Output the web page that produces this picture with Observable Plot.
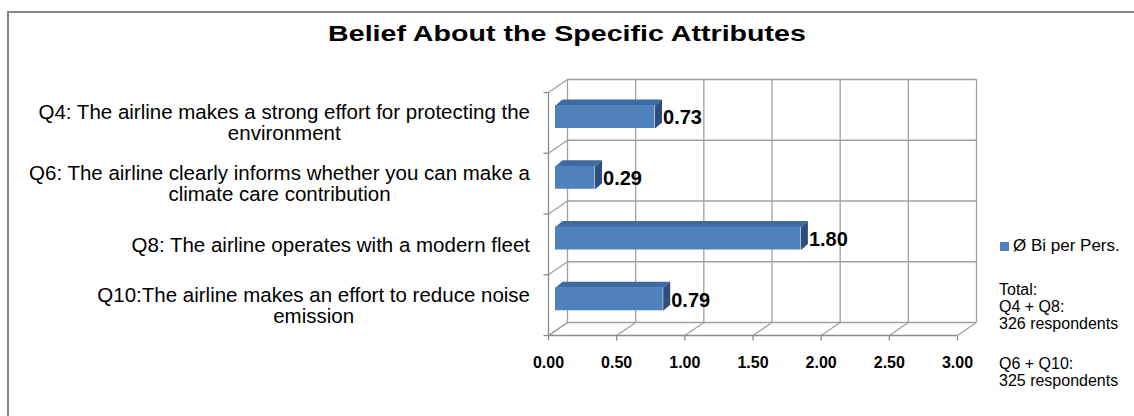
<!DOCTYPE html>
<html><head><meta charset="utf-8">
<script src="https://cdn.jsdelivr.net/npm/d3@7"></script>
<script src="https://cdn.jsdelivr.net/npm/@observablehq/plot@0.6"></script>
<style>
html,body{margin:0;padding:0;background:#fff;overflow:hidden;}
#wrap{position:relative;width:1134px;height:416px;font-family:"Liberation Sans",Arial,sans-serif;overflow:hidden;color:#000;}
#border{position:absolute;left:7px;top:11px;width:1200px;height:500px;border:2px solid #868686;box-sizing:border-box;}
#title{position:absolute;left:0;top:23px;width:1134px;text-align:center;font-size:22px;line-height:22px;font-weight:bold;transform:scaleX(1.3);transform-origin:567px 0;}
#chart{position:absolute;left:0;top:0;}
.ylab{position:absolute;right:604px;text-align:center;font-size:20.5px;line-height:21px;white-space:pre;transform:translateY(-50%);}
#legend{position:absolute;left:1000px;top:236px;font-size:17px;line-height:20px;white-space:nowrap;}
#legend .sw{display:inline-block;width:9px;height:9px;margin-right:4px;vertical-align:0px;}
.note{position:absolute;left:999px;font-size:16px;line-height:17px;white-space:pre;}
</style>
</head><body>
<div id="wrap">
  <div id="border"></div>
  <div id="title"></div>
  <div id="chart"></div>
</div>
<script>
// ---- data ----
const categories = [
  "Q4: The airline makes a strong effort for protecting the\nenvironment",
  "Q6: The airline clearly informs whether you can make a\nclimate care contribution",
  "Q8: The airline operates with a modern fleet",
  "Q10:The airline makes an effort to reduce noise\nemission"
];
const values = [0.73, 0.29, 1.80, 0.79];
const xTicks = [0, 0.5, 1, 1.5, 2, 2.5, 3];
const titleText = "Belief About the Specific Attributes";
const seriesName = "Ø Bi per Pers.";
const noteA = ["Total:", "Q4 + Q8:", "326 respondents"];
const noteB = ["Q6 + Q10:", "325 respondents"];

// ---- layout ----
const W = 1134, H = 416, mL = 548, mR = 177, mT = 92, mB = 81;
const xMax = 3, yMax = categories.length;
const kx = (W - mL - mR) / xMax, ky = (H - mT - mB) / yMax;
const backDx = 19, backDy = -13;           // back wall offset (px)
const ox = backDx / kx, oy = -backDy / ky; // same in data units
const barDx = 7, barDy = -5;               // bar front face offset (px)
const depX = 7 / kx, depY = 6 / ky;        // bar depth (data units)
const yLo = 0.325, yHi = 0.704;            // bar thickness within band
const n = categories.length;
const rows = categories.map((c, i) => ({cat: c, v: values[i], k: n - 1 - i}));

const topFaces = rows.flatMap(r => [
  [0, r.k + yHi], [r.v, r.k + yHi], [r.v + depX, r.k + yHi + depY], [depX, r.k + yHi + depY]
].map(([x, y]) => ({id: r.cat, x, y})));
const sideFaces = rows.flatMap(r => [
  [r.v, r.k + yLo], [r.v, r.k + yHi], [r.v + depX, r.k + yHi + depY], [r.v + depX, r.k + yLo + depY]
].map(([x, y]) => ({id: r.cat, x, y})));

const gridC = "#a0a0a0", axisC = "#8a8a8a";
const frontC = "#4f81bd", topC = "#3e6aa1", sideC = "#2e4f7c";
const levels = d3.range(0, yMax + 1);

const chart = Plot.plot({
  width: W, height: H,
  marginLeft: mL, marginRight: mR, marginTop: mT, marginBottom: mB,
  x: {domain: [0, xMax], axis: null},
  y: {domain: [0, yMax], axis: null},
  style: {fontFamily: "Liberation Sans, Arial, sans-serif", background: "transparent", overflow: "visible"},
  marks: [
    // back wall grid
    Plot.ruleX(xTicks, {y1: 0, y2: yMax, dx: backDx, dy: backDy, stroke: gridC, strokeWidth: 1.3}),
    Plot.ruleY(levels, {x1: 0, x2: xMax, dx: backDx, dy: backDy, stroke: gridC, strokeWidth: 1.3}),
    // left wall and floor diagonals
    Plot.link(levels, {x1: 0, y1: d => d, x2: ox, y2: d => d + oy, stroke: gridC, strokeWidth: 1.3}),
    Plot.link(xTicks, {x1: d => d, y1: 0, x2: d => d + ox, y2: oy, stroke: gridC, strokeWidth: 1.3}),
    // front axes
    Plot.ruleX([0], {y1: 0, y2: yMax, stroke: axisC, strokeWidth: 1.3}),
    Plot.ruleY([0], {x1: 0, x2: xMax, stroke: axisC, strokeWidth: 1.3}),
    Plot.link(levels, {x1: 0, y1: d => d, x2: -5 / kx, y2: d => d, stroke: axisC, strokeWidth: 1.3}),
    Plot.link(xTicks, {x1: d => d, y1: 0, x2: d => d, y2: -5 / ky, stroke: axisC, strokeWidth: 1.3}),
    Plot.text(xTicks, {x: d => d, y: 0, text: d => d.toFixed(2), dy: 27, fontSize: 16, fontWeight: "bold", fill: "#000"}),
    // 3D bars
    Plot.line(sideFaces, {x: "x", y: "y", z: "id", fill: sideC, stroke: "none", dx: barDx, dy: barDy}),
    Plot.line(topFaces, {x: "x", y: "y", z: "id", fill: topC, stroke: "none", dx: barDx, dy: barDy}),
    Plot.rect(rows, {x1: 0, x2: "v", y1: d => d.k + yLo, y2: d => d.k + yHi, fill: frontC, dx: barDx, dy: barDy}),
    // value labels
    Plot.text(rows, {x: "v", y: d => d.k + 0.5, text: d => d.v.toFixed(2), textAnchor: "start",
      dx: 15, dy: -5, fontSize: 20, fontWeight: "bold", fill: "#000"})
  ]
});
document.getElementById("chart").appendChild(chart);
document.getElementById("title").textContent = titleText;

const wrap = document.getElementById("wrap");
const ys = chart.scale("y");
rows.forEach(r => {
  const d = document.createElement("div");
  d.className = "ylab";
  d.textContent = r.cat;
  d.style.top = ys.apply(r.k + 0.5) + "px";
  wrap.appendChild(d);
});

const lg = document.createElement("div");
lg.id = "legend";
lg.innerHTML = `<span class="sw" style="background:${frontC}"></span>`;
lg.appendChild(document.createTextNode(seriesName));
wrap.appendChild(lg);

[[noteA, 281], [noteB, 355]].forEach(([lines, top]) => {
  const d = document.createElement("div");
  d.className = "note";
  d.style.top = top + "px";
  d.textContent = lines.join("\n");
  wrap.appendChild(d);
});
</script>
</body></html>
